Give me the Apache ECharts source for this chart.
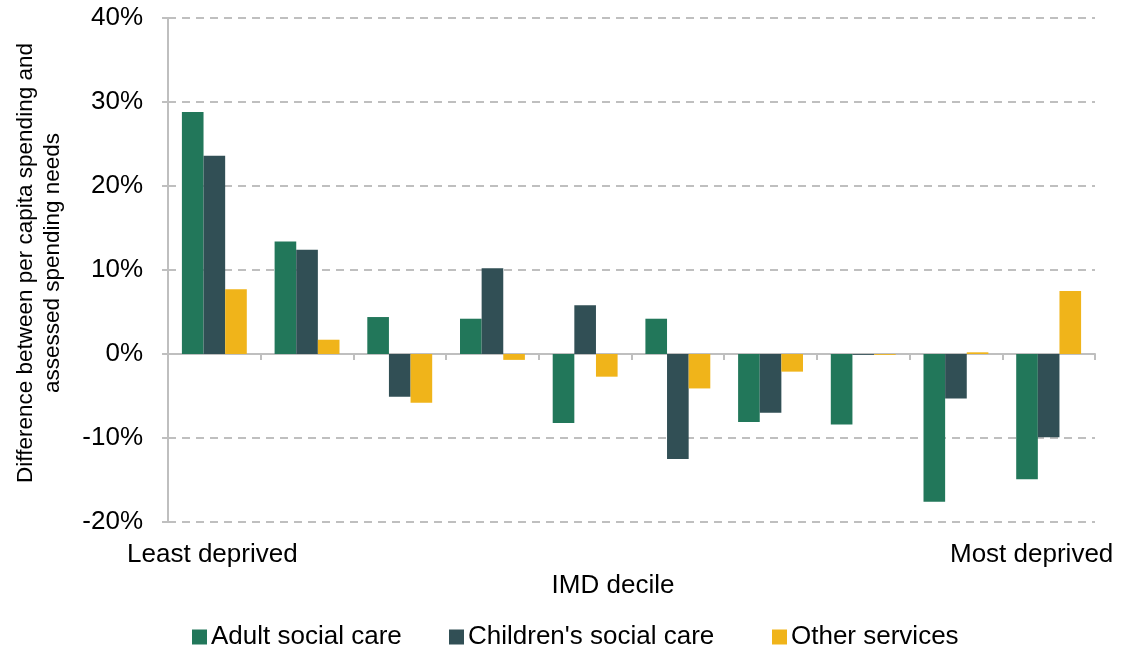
<!DOCTYPE html>
<html><head><meta charset="utf-8">
<script src="https://cdn.jsdelivr.net/npm/echarts@6/dist/echarts.min.js"></script>
<style>html,body{margin:0;padding:0;background:#fff}#c{width:1122px;height:651px}</style>
</head><body><div id="c"></div>
<script>
const categories = ['1','2','3','4','5','6','7','8','9','10'];
const edgeLabels = ['Least deprived','','','','','','','','','Most deprived'];
const adultSocialCare = [28.8, 13.4, 4.4, 4.2, -8.2, 4.2, -8.1, -8.4, -17.6, -14.9];
const childrensSocialCare = [23.6, 12.4, -5.1, 10.2, 5.8, -12.5, -7.0, -0.1, -5.3, -9.9];
const otherServices = [7.7, 1.7, -5.8, -0.7, -2.7, -4.1, -2.1, -0.1, 0.2, 7.5];
const seriesNames = ['Adult social care', "Children's social care", 'Other services'];
const colors = ['#22775A', '#314F55', '#F0B41A'];
const legendLefts = [192, 449, 772];

const chart = echarts.init(document.getElementById('c'));
const font = 'Liberation Sans, Arial, sans-serif';
const legends = seriesNames.map(function (n, i) {
  return {
    top: 624, left: legendLefts[i], itemWidth: 15, itemHeight: 15, padding: 0,
    icon: 'rect',
    textStyle: {fontSize: 26, color: '#000', fontFamily: font, padding: [0,0,0,-1]},
    data: [n]
  };
});
chart.setOption({
  animation: false,
  textStyle: {fontFamily: font},
  grid: {left: 168, right: 27, top: 18, bottom: 129},
  legend: legends,
  xAxis: [{
    type: 'category', data: categories,
    axisLine: {onZero: true, lineStyle: {color: '#BFBFBF', width: 2}},
    axisTick: {show: true, length: 6, lineStyle: {color: '#BFBFBF', width: 2}},
    axisLabel: {show: false}
  }, {
    type: 'category', data: edgeLabels, position: 'bottom',
    axisLine: {show: false}, axisTick: {show: false},
    axisLabel: {
      show: true, interval: 0, margin: 20,
      formatter: function (v, i) { return i === 9 ? '{r|' + v + '}' : '{l|' + v + '}'; },
      rich: {
        l: {fontSize: 26, color: '#000', fontFamily: font, padding: [0, 4, 0, 0]},
        r: {fontSize: 26, color: '#000', fontFamily: font, padding: [0, 34, 0, 0]}
      }
    },
    name: 'IMD decile', nameLocation: 'middle', nameGap: 42,
    nameTextStyle: {fontSize: 26, color: '#000', padding: [0, 37, 0, 0], fontFamily: font}
  }],
  yAxis: {
    type: 'value', min: -20, max: 40, interval: 10,
    axisLine: {show: true, lineStyle: {color: '#BFBFBF', width: 2}},
    axisTick: {show: true, length: 6, lineStyle: {color: '#BFBFBF', width: 2}},
    axisLabel: {formatter: '{value}%', fontSize: 26, color: '#000', margin: 25, fontFamily: font},
    splitLine: {show: true, lineStyle: {color: '#BFBFBF', type: [8, 6], width: 2}},
    name: 'Difference between per capita spending and\nassessed spending needs',
    nameLocation: 'middle', nameGap: 102, nameRotate: 90,
    nameTextStyle: {fontSize: 22.5, color: '#000', lineHeight: 27, fontFamily: font, padding: [0, 0, 0, 14]}
  },
  series: [
    {name: seriesNames[0], type: 'bar', data: adultSocialCare, itemStyle: {color: colors[0]}, barGap: '0%', barCategoryGap: '30%'},
    {name: seriesNames[1], type: 'bar', data: childrensSocialCare, itemStyle: {color: colors[1]}, barGap: '0%', barCategoryGap: '30%'},
    {name: seriesNames[2], type: 'bar', data: otherServices, itemStyle: {color: colors[2]}, barGap: '0%', barCategoryGap: '30%'}
  ]
});
</script></body></html>
